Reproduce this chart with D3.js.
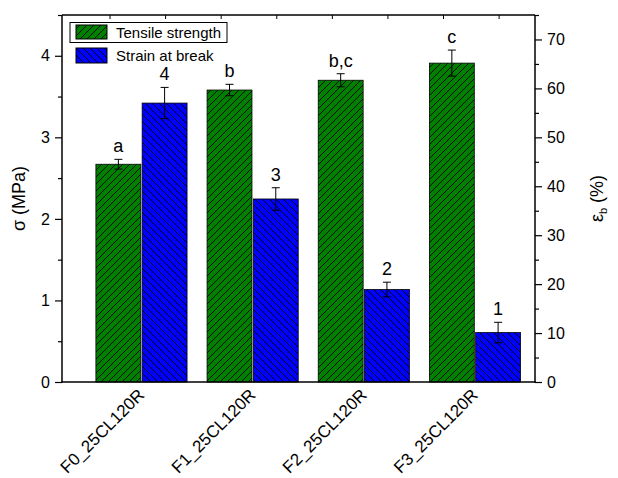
<!DOCTYPE html>
<html>
<head>
<meta charset="utf-8">
<script src="https://cdn.jsdelivr.net/npm/d3@7"></script>
<style>
  html, body { margin: 0; padding: 0; background: #fff; }
  svg { display: block; font-family: Arial, "Liberation Sans", sans-serif; }
</style>
</head>
<body>
<svg id="chart" width="618" height="478"></svg>
<script>
// Sample names (categories)
const samples = ["F0_25CL120R", "F1_25CL120R", "F2_25CL120R", "F3_25CL120R"];

// Tensile strength, MPa (left axis)
const strength = [2.67, 3.58, 3.70, 3.91];
const strengthErr = [0.06, 0.07, 0.08, 0.16];
const strengthGroups = ["a", "b", "b,c", "c"];

// Strain at break, % (right axis)
const strain = [57.0, 37.4, 18.9, 10.1];
const strainErr = [3.2, 2.3, 1.5, 2.1];
const strainGroups = ["4", "3", "2", "1"];

// Axis ticks
const leftTicks = [0, 1, 2, 3, 4];
const leftMinor = [0.5, 1.5, 2.5, 3.5, 4.5];
const rightTicks = [0, 10, 20, 30, 40, 50, 60, 70];
const rightMinor = [5, 15, 25, 35, 45, 55, 65, 75];
const topTicks = [0.717, 1.217, 1.717, 2.217, 2.717, 3.217, 3.717, 4.217];

const svg = d3.select("#chart");
const L = 62, R = 535, T = 15, B = 382;

const x = d3.scaleLinear().domain([0.285, 4.54]).range([L, R]);
const yL = d3.scaleLinear().domain([0, 4.5]).range([B, T]);
const yR = d3.scaleLinear().domain([0, 75]).range([B, T]);
const halfW = 0.41, gap = 0.006;

// Hatch patterns
const defs = svg.append("defs");
function hatch(id, fill, forward) {
  const s = 7;
  const p = defs.append("pattern").attr("id", id)
    .attr("patternUnits", "userSpaceOnUse").attr("width", s).attr("height", s);
  p.append("rect").attr("width", s).attr("height", s).attr("fill", fill);
  const d = forward
    ? `M-1,1 L1,-1 M0,${s} L${s},0 M${s - 1},${s + 1} L${s + 1},${s - 1}`
    : `M-1,${s - 1} L1,${s + 1} M0,0 L${s},${s} M${s - 1},-1 L${s + 1},1`;
  p.append("path").attr("d", d).attr("stroke", "#000").attr("stroke-width", 0.9);
}
hatch("hG", "#007F00", true);
hatch("hB", "#0000FF", false);

// Bars
const idx = d3.range(samples.length);
svg.append("g").selectAll("rect").data(idx).join("rect")
  .attr("x", i => x(i + 1 - halfW)).attr("width", x(halfW - gap) - x(0))
  .attr("y", i => yL(strength[i])).attr("height", i => B - yL(strength[i]))
  .attr("fill", "url(#hG)").attr("stroke", "#000").attr("stroke-width", 0.8);
svg.append("g").selectAll("rect").data(idx).join("rect")
  .attr("x", i => x(i + 1 + gap)).attr("width", x(halfW - gap) - x(0))
  .attr("y", i => yR(strain[i])).attr("height", i => B - yR(strain[i]))
  .attr("fill", "url(#hB)").attr("stroke", "#000").attr("stroke-width", 0.8);

// Error bars and significance letters
function errBars(cx, val, err, scale, labels) {
  const g = svg.append("g");
  idx.forEach(i => {
    const c = x(cx(i));
    const top = scale(val[i] + err[i]), bot = scale(val[i] - err[i]);
    g.append("line").attr("x1", c).attr("x2", c).attr("y1", top).attr("y2", bot)
      .attr("stroke", "#000").attr("stroke-width", 1);
    [top, bot].forEach(yy => g.append("line").attr("x1", c - 4).attr("x2", c + 4)
      .attr("y1", yy).attr("y2", yy).attr("stroke", "#000").attr("stroke-width", 1));
    g.append("text").attr("x", c).attr("y", top - 7).attr("text-anchor", "middle")
      .attr("font-size", 18).text(labels[i]);
  });
}
errBars(i => i + 1 - (halfW + gap) / 2, strength, strengthErr, yL, strengthGroups);
errBars(i => i + 1 + (halfW + gap) / 2, strain, strainErr, yR, strainGroups);

// Frame
const frame = svg.append("g").attr("stroke", "#000").attr("stroke-width", 1.5);
frame.append("line").attr("x1", L).attr("x2", R).attr("y1", T).attr("y2", T);
frame.append("line").attr("x1", L - 0.75).attr("x2", R + 0.75).attr("y1", B).attr("y2", B);

// Top inward ticks
svg.append("g").selectAll("line").data(topTicks).join("line")
  .attr("x1", d => x(d)).attr("x2", d => x(d)).attr("y1", T).attr("y2", T + 4)
  .attr("stroke", "#000").attr("stroke-width", 1);

// Left axis
const axL = svg.append("g").attr("transform", `translate(${L},0)`)
  .call(d3.axisLeft(yL).tickValues(leftTicks).tickFormat(d3.format("d")).tickSize(7).tickPadding(5));
svg.append("g").attr("transform", `translate(${L},0)`)
  .call(d3.axisLeft(yL).tickValues(leftMinor).tickFormat("").tickSize(4))
  .select(".domain").remove();

// Right axis
const axR = svg.append("g").attr("transform", `translate(${R},0)`)
  .call(d3.axisRight(yR).tickValues(rightTicks).tickFormat(d3.format("d")).tickSize(7).tickPadding(5));
svg.append("g").attr("transform", `translate(${R},0)`)
  .call(d3.axisRight(yR).tickValues(rightMinor).tickFormat("").tickSize(4))
  .select(".domain").remove();

svg.selectAll(".tick text").attr("font-size", 16).attr("font-family", "Arial, 'Liberation Sans', sans-serif").attr("fill", "#000");
svg.selectAll(".tick line").attr("stroke", "#000").attr("stroke-width", 1.2);
axL.select(".domain").attr("stroke", "#000").attr("stroke-width", 1.5).attr("d", `M0,${T}V${B + 0.75}`);
axR.select(".domain").attr("stroke", "#000").attr("stroke-width", 1.5).attr("d", `M0,${T}V${B + 0.75}`);

// Category labels (rotated)
svg.append("g").selectAll("text").data(idx).join("text")
  .attr("transform", i => `translate(${x(i + 1) + 4},${B + 14}) rotate(-45)`)
  .attr("text-anchor", "end").attr("font-size", 17).text(i => samples[i]);

// Axis titles
svg.append("text").attr("transform", `translate(25,${(T + B) / 2}) rotate(-90)`)
  .attr("text-anchor", "middle").attr("font-size", 18).text("σ (MPa)");
const rt = svg.append("text").attr("transform", `translate(603,${(T + B) / 2}) rotate(-90)`)
  .attr("text-anchor", "middle").attr("font-size", 18);
rt.append("tspan").text("ε");
rt.append("tspan").attr("font-size", 11).attr("dy", 4).text("b");
rt.append("tspan").attr("dy", -4).text(" (%)");

// Legend
const lg = svg.append("g");
lg.append("rect").attr("x", 70).attr("y", 22.5).attr("width", 157).attr("height", 20)
  .attr("fill", "#fff").attr("stroke", "#000").attr("stroke-width", 1);
lg.append("rect").attr("x", 76).attr("y", 25).attr("width", 31).attr("height", 14)
  .attr("fill", "url(#hG)").attr("stroke", "#000").attr("stroke-width", 1);
lg.append("text").attr("x", 116).attr("y", 38).attr("font-size", 15).text("Tensile strength");
lg.append("rect").attr("x", 76).attr("y", 48).attr("width", 31).attr("height", 15)
  .attr("fill", "url(#hB)").attr("stroke", "#000").attr("stroke-width", 1);
lg.append("text").attr("x", 116).attr("y", 61).attr("font-size", 15).text("Strain at break");
</script>
</body>
</html>
